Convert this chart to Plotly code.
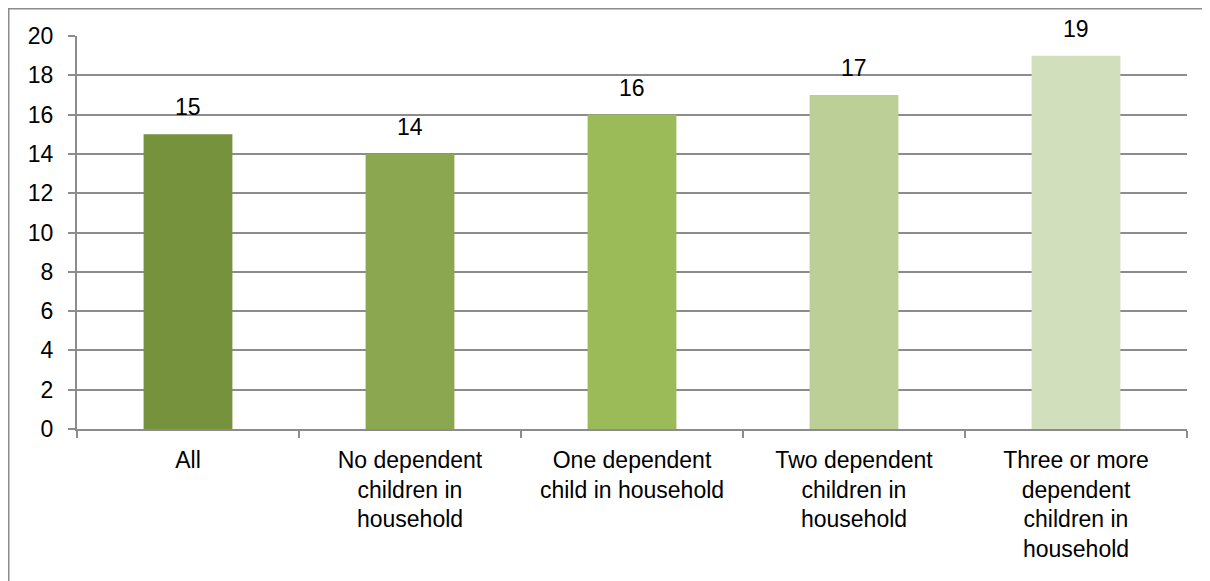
import plotly.graph_objects as go

# Categorias y valores (%)
categorias = ["All",
              "No dependent<br>children in<br>household",
              "One dependent<br>child in household",
              "Two dependent<br>children in<br>household",
              "Three or more<br>dependent<br>children in<br>household"]
valores = [15, 14, 16, 17, 19]
colores = ["#76923C", "#8BA750", "#9BBB59", "#BBCF97", "#D2DFBD"]

# La pagina tiene 8px de margen en el body
W, H = 1202, 573
ml, mr, mt, mb = 69, 23, 28, 152
gris = "#8C8C8C"
fuente = "Liberation Sans, Arial, sans-serif"
tam = 23

fig = go.Figure(go.Bar(x=categorias, y=valores, marker_color=colores,
                       marker_line_width=0, width=0.4))

# Etiquetas de datos sobre cada barra
for c, v in zip(categorias, valores):
    fig.add_annotation(x=c, y=v, text=str(v), showarrow=False,
                       yanchor="bottom", yshift=12,
                       font=dict(size=tam, color="black", family=fuente))

# Borde exterior del grafico (recortado por abajo y derecha)
pw, ph = W - ml - mr, H - mt - mb
x_izq = -ml / pw
y_sup = 1 + mt / ph
fig.add_shape(type="line", xref="paper", yref="paper", x0=x_izq, x1=x_izq,
              y0=y_sup, y1=-(mb + 5) / ph, line=dict(color=gris, width=3))
fig.add_shape(type="line", xref="paper", yref="paper", x0=x_izq, x1=1 + (mr + 5) / pw,
              y0=y_sup, y1=y_sup, line=dict(color=gris, width=3))

fig.update_layout(
    width=W, height=H,
    margin=dict(l=ml, r=mr, t=mt, b=mb),
    plot_bgcolor="white", paper_bgcolor="white",
    showlegend=False,
    font=dict(family=fuente, size=tam, color="black"),
)
fig.update_xaxes(showline=True, linecolor=gris, linewidth=2,
                 ticks="outside", tickson="boundaries", ticklen=7,
                 tickcolor=gris, tickwidth=2, tickangle=0,
                 tickfont=dict(size=tam), ticklabelstandoff=9)
fig.update_yaxes(range=[0, 20], dtick=2, showgrid=True, gridcolor=gris,
                 gridwidth=2, zeroline=False, showline=True, linecolor=gris,
                 linewidth=2, ticks="outside", ticklen=7, tickcolor=gris,
                 tickwidth=2, tickfont=dict(size=tam), ticklabelstandoff=10)

fig.write_html("out.html")
